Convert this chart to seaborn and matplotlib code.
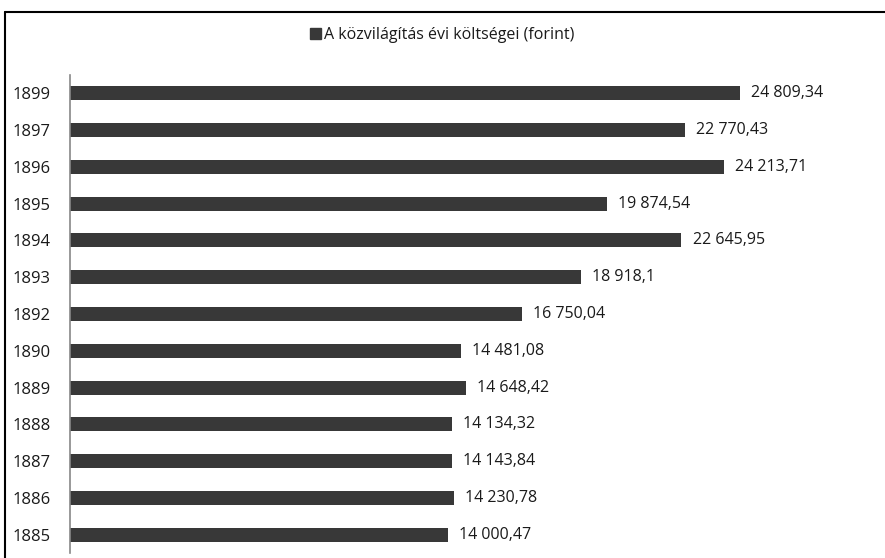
import matplotlib
matplotlib.use("Agg")
import matplotlib.pyplot as plt
import pandas as pd
import seaborn as sns
from matplotlib.lines import Line2D
from matplotlib.patches import Patch

years = ["1899", "1897", "1896", "1895", "1894", "1893", "1892",
         "1890", "1889", "1888", "1887", "1886", "1885"]
costs = [24809.34, 22770.43, 24213.71, 19874.54, 22645.95, 18918.1, 16750.04,
         14481.08, 14648.42, 14134.32, 14143.84, 14230.78, 14000.47]
series_name = "A közvilágítás évi költségei (forint)"

bar_color = "#383838"
text_color = "#1a1a1a"


def hu_format(value: float) -> str:
    text = f"{value:,.2f}".rstrip("0").rstrip(".")
    return text.replace(",", " ").replace(".", ",")


sns.set_style("white")
plt.rcParams["font.family"] = ["Open Sans", "DejaVu Sans"]
plt.rcParams["text.color"] = text_color

frame = pd.DataFrame({"year": years, "cost": costs})

fig = plt.figure(figsize=(8.85, 5.58), dpi=100)
ax = fig.add_axes([70 / 885, 1 - 553.4 / 558, 810 / 885, (553.4 - 74.6) / 558])
sns.barplot(data=frame, x="cost", y="year", color=bar_color, width=0.38,
            saturation=1, linewidth=0, ax=ax)

ax.set_xlim(0, 30000)
ax.set_xlabel("")
ax.set_ylabel("")
ax.set_xticks([])
for side in ["top", "right", "bottom"]:
    ax.spines[side].set_visible(False)
ax.spines["left"].set_color("#888888")
ax.spines["left"].set_linewidth(1.2)
ax.tick_params(axis="y", length=0, pad=14, labelsize=12, labelcolor=text_color)

ax.bar_label(ax.containers[0], labels=[hu_format(v) for v in costs],
             padding=8, fontsize=11.5, color=text_color)

fig.legend(handles=[Patch(facecolor=bar_color, edgecolor=bar_color)],
           labels=[series_name], loc="center", bbox_to_anchor=(0.5, 1 - 35 / 558),
           frameon=False, fontsize=11.5, handlelength=0.7, handleheight=0.7,
           handletextpad=0.2)

# chart frame (top and left edges visible in the reference)
fig.add_artist(Line2D([5 / 885, 1.0], [1 - 12 / 558, 1 - 12 / 558],
                      transform=fig.transFigure, color="black", linewidth=1.5))
fig.add_artist(Line2D([5 / 885, 5 / 885], [0.0, 1 - 12 / 558],
                      transform=fig.transFigure, color="black", linewidth=1.5))

fig.savefig("out.png", dpi=100)
plt.close(fig)
